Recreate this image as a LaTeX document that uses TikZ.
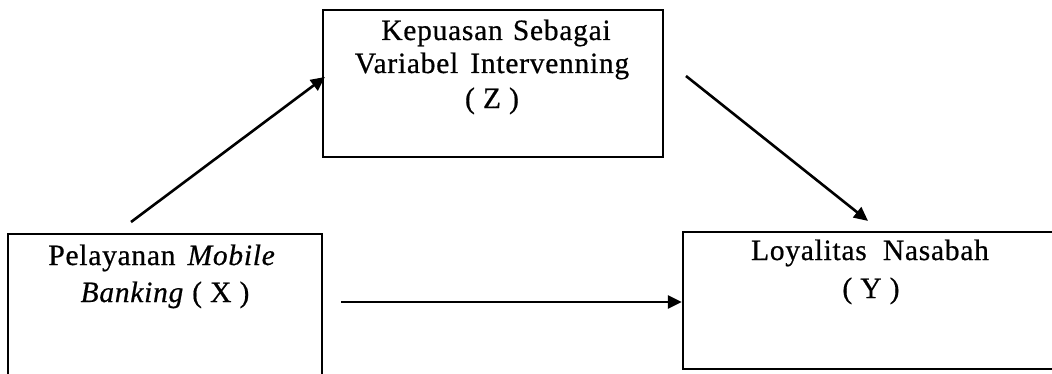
\documentclass[tikz,border=0pt]{standalone}
\usepackage{fontspec}
\setmainfont{Liberation Serif}[LetterSpace=2.5,FakeBold=0.6]
\usetikzlibrary{arrows.meta}
\begin{document}
\begin{tikzpicture}[x=1pt,y=1pt,
  box/.style={draw, line width=2.2pt, inner sep=0pt},
  lbl/.style={font=\fontsize{29.5}{35}\selectfont, inner sep=0pt, anchor=base},
  conn/.style={line width=2.6pt, -{Triangle[length=14pt,width=13pt]}}]
\useasboundingbox (0,0) rectangle (1052,373);
\clip (0,0) rectangle (1052,373);
% boxes
\node[box, minimum width=340pt, minimum height=147pt] (Z) at (493,289.5) {};
\node[box, minimum width=314pt, minimum height=159pt] (X) at (165,59.5) {};
\node[box, minimum width=375pt, minimum height=137pt] (Y) at (870.5,72.5) {};
% texts
\node[lbl] (z1) at (496,333) {Kepuasan\hspace{2pt} Sebagai};
\node[lbl] (z2) at (492,300) {Variabel\hspace{4pt} Intervenning};
\node[lbl] (z3) at (492,265) {( Z )};
\node[lbl] (x1) at (162,108) {Pelayanan\hspace{4pt} \textit{Mobile}};
\node[lbl] (x2) at (165,71) {\textit{Banking} ( X )};
\node[lbl] (y1) at (870,113) {Loyalitas\hspace{8pt} Nasabah};
\node[lbl] (y2) at (871,75) {( Y )};
% connectors
\coordinate (xs) at (131,151);
\coordinate (zs) at (686,297);
\coordinate (hs) at (341,71);
\draw[conn] (xs) -- ([xshift=3pt,yshift=6.5pt]Z.west);
\draw[conn] (zs) -- ([xshift=-2.5pt,yshift=10pt]Y.north);
\draw[conn] (hs) -- ([yshift=-1.5pt]Y.west);
\end{tikzpicture}
\end{document}
